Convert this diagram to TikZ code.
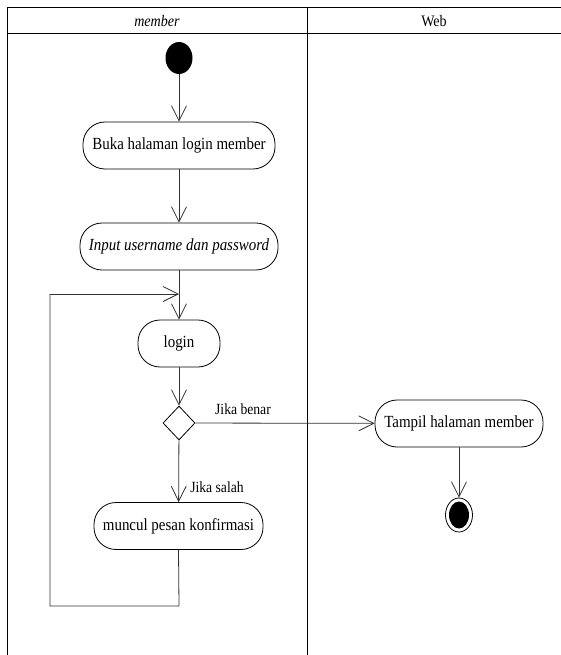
\documentclass[tikz,border=0pt]{standalone}
\usepackage{fontspec}
\setmainfont{Liberation Serif}[FakeStretch=0.88]
\usetikzlibrary{arrows.meta,shapes.geometric}

\tikzset{
  lane/.style={line width=1pt, black},
  action/.style={draw, line width=0.8pt, rectangle, rounded corners=22pt,
    minimum height=47pt, inner sep=0pt, font=\fontsize{17}{20}\selectfont},
  flow/.style={line width=0.8pt, draw=black!80, -{Straight Barb[length=15pt,width=15pt,line width=0.8pt]}},
  plain/.style={line width=0.8pt, draw=black!80},
  guard/.style={font=\fontsize{15.5}{18}\selectfont, inner sep=0pt},
  startstate/.style={ellipse, fill=black, minimum width=27pt, minimum height=32pt, inner sep=0pt},
  endstate/.style={ellipse, draw, line width=0.8pt, minimum width=27pt, minimum height=34pt, inner sep=0pt,
    path picture={\fill (path picture bounding box.center) ellipse (10pt and 13.5pt);}},
  choice/.style={diamond, draw, line width=0.8pt, minimum width=32pt, minimum height=34pt, inner sep=0pt},
  lanetitle/.style={font=\fontsize{16}{19}\selectfont, inner sep=0pt}
}

\begin{document}
\begin{tikzpicture}[x=1pt, y=-1pt]
\useasboundingbox (0,0) rectangle (561,655);

% swimlane frame
\draw[lane] (7,655) -- (7,8) -- (561,8);
\draw[lane] (7,34) -- (561,34);
\draw[lane] (307,8) -- (307,655);
\node[lanetitle] (lanemember) at (157,21) {\itshape member};
\node[lanetitle] (laneweb) at (434,21) {Web};

% activity nodes
\node[startstate] (start) at (179,58) {};
\node[action, minimum width=192pt] (buka) at (179,145.5) {Buka halaman login member};
\node[action, minimum width=198pt] (input) at (179,246.5) {\itshape Input username dan password};
\node[action, minimum width=82pt] (login) at (179,343.5) {login};
\node[choice] (cek) at (179,423) {};
\node[action, minimum width=169pt] (muncul) at (178.5,526) {muncul pesan konfirmasi};
\node[action, minimum width=168pt] (tampil) at (459,423.5) {Tampil halaman member};
\node[endstate] (end) at (459,515) {};

% guard labels
\node[guard] (benar) at (243,409) {Jika benar};
\node[guard] (salah) at (217,487) {Jika salah};

% loop corners
\coordinate (loopin) at (179,294);
\coordinate (loopdown) at (179,606);
\coordinate (loopleft) at (50,606);
\coordinate (looptop) at (50,294);

% control flow
\draw[flow] (start) -- (buka);
\draw[flow] (buka) -- (input);
\draw[flow] (input) -- (login);
\draw[flow] (login) -- (cek);
\draw[flow] (cek) -- (tampil);
\draw[flow] (cek) -- (muncul);
\draw[flow] (tampil) -- (end);
\draw[plain] (muncul.south) -- (loopdown) -- (loopleft) -- (looptop);
\draw[flow] (looptop) -- (loopin);
\end{tikzpicture}
\end{document}
